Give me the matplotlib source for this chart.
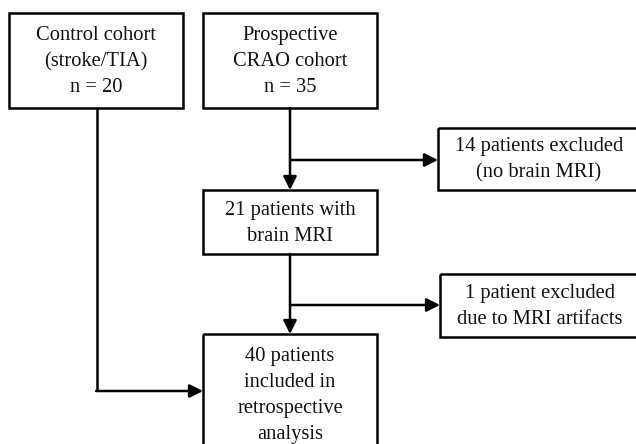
import matplotlib
matplotlib.use("Agg")
import matplotlib.pyplot as plt
from matplotlib.patches import Rectangle

# box texts
labels = [
    "Control cohort\n(stroke/TIA)\nn = 20",
    "Prospective\nCRAO cohort\nn = 35",
    "14 patients excluded\n(no brain MRI)",
    "21 patients with\nbrain MRI",
    "1 patient excluded\ndue to MRI artifacts",
    "40 patients\nincluded in\nretrospective\nanalysis",
]
# box geometry in pixel units: left, top, right, bottom
boxes = [
    (9, 13, 183, 108),
    (203, 13, 377, 108),
    (438, 128, 640, 190),
    (203, 190, 377, 254),
    (440, 274, 640, 337),
    (203, 334, 377, 454),
]

fig = plt.figure(figsize=(6.36, 4.44), dpi=100)
ax = fig.add_axes([0, 0, 1, 1])
ax.set_xlim(0, 636)
ax.set_ylim(444, 0)
ax.axis("off")

lw = 1.8
for (x0, y0, x1, y1), txt in zip(boxes, labels):
    ax.add_patch(Rectangle((x0, y0), x1 - x0, y1 - y0, fill=False, ec="black", lw=lw))
    ax.text((x0 + x1) / 2, (y0 + y1) / 2 + 1, txt, ha="center", va="center",
            fontsize=14.8, family="Liberation Serif", linespacing=1.5, color="#111111")

def arrow(x0, y0, x1, y1):
    ax.annotate("", xy=(x1, y1), xytext=(x0, y0),
                arrowprops=dict(arrowstyle="-|>,head_length=0.8,head_width=0.4",
                                color="black", lw=lw, shrinkA=0, shrinkB=0))

def line(xs, ys):
    ax.plot(xs, ys, color="black", lw=lw, solid_capstyle="butt")

cx = 290
# CRAO -> 21
arrow(cx, 108, cx, 190)
arrow(cx, 160, 438, 160)
# 21 -> 40
arrow(cx, 254, cx, 334)
arrow(cx, 305, 440, 305)
# control -> 40
line([97, 97], [108, 391])
arrow(96.1, 391, 203, 391)

fig.savefig("out.png", dpi=100, facecolor="white")
